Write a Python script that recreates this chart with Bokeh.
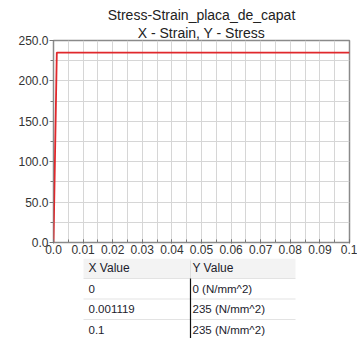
import numpy as np
from bokeh.plotting import figure
from bokeh.layouts import column
from bokeh.models import Range1d, FixedTicker, Title, ColumnDataSource
from bokeh.core.properties import value
from bokeh.embed import file_html
from bokeh.resources import INLINE

# ---- data ----
title_line1 = "Stress-Strain_placa_de_capat"
title_line2 = "X - Strain, Y - Stress"
strain = [0.0, 0.001119, 0.1]
stress = [0.0, 235.0, 235.0]
stress_unit = "(N/mm^2)"
x_ticks = [0.0, 0.01, 0.02, 0.03, 0.04, 0.05, 0.06, 0.07, 0.08, 0.09, 0.1]
x_tick_labels = ["0.0", "0.01", "0.02", "0.03", "0.04", "0.05", "0.06", "0.07", "0.08", "0.09", "0.1"]
y_ticks = [0, 50, 100, 150, 200, 250]
y_tick_labels = ["0.0", "50.0", "100.0", "150.0", "200.0", "250.0"]
table_headers = ["X Value", "Y Value"]

FONT = "Liberation Sans"
W = 357
CH = 258
TH = 338 - CH
BL, BR = 53, 8

p = figure(width=W, height=CH, output_backend="svg", toolbar_location=None,
           x_range=Range1d(0, 0.1), y_range=Range1d(0, 250),
           min_border_left=BL, min_border_right=BR, min_border_top=40, min_border_bottom=16,
           title=None)
p.background_fill_color = "white"
p.border_fill_color = "white"
p.outline_line_color = "#8a8a8a"
p.outline_line_width = 1.5

p.xgrid.ticker = FixedTicker(ticks=list(np.arange(0, 0.1001, 0.005)))
p.ygrid.ticker = FixedTicker(ticks=list(np.arange(0, 250.1, 25)))
for g in (p.xgrid, p.ygrid):
    g.grid_line_color = "#d6d6d6"
    g.grid_line_width = 1

p.xaxis.ticker = FixedTicker(ticks=x_ticks, minor_ticks=list(np.arange(0, 0.1001, 0.005)))
p.xaxis.major_label_overrides = {t: l for t, l in zip(x_ticks, x_tick_labels)}
p.yaxis.ticker = FixedTicker(ticks=y_ticks, minor_ticks=list(np.arange(0, 250.1, 25)))
p.yaxis.major_label_overrides = {t: l for t, l in zip(y_ticks, y_tick_labels)}
for ax in (p.xaxis, p.yaxis):
    ax.axis_line_color = None
    ax.major_tick_line_color = "#777777"
    ax.minor_tick_line_color = "#777777"
    ax.major_label_text_font = FONT
    ax.major_label_text_font_size = "12px"
    ax.major_label_text_color = "#333333"
p.xaxis.major_tick_in = 3
p.xaxis.major_tick_out = 1
p.xaxis.minor_tick_in = 3
p.xaxis.minor_tick_out = 0
p.xaxis.major_label_standoff = 1
p.yaxis.major_tick_in = 0
p.yaxis.major_tick_out = 4
p.yaxis.minor_tick_in = 0
p.yaxis.minor_tick_out = 3
p.yaxis.major_label_standoff = 1

p.line(strain, stress, line_color="#e0282c", line_width=1.8)

p.add_layout(Title(text=title_line2, align="center", text_font=FONT, text_font_size="14px",
                   text_font_style="normal", text_color="#222222", standoff=0, offset=0), "above")
p.add_layout(Title(text=title_line1, align="center", text_font=FONT, text_font_size="14px",
                   text_font_style="normal", text_color="#222222", standoff=0, offset=0), "above")

# ---- table (data units = page pixels) ----
t = figure(width=W, height=TH, output_backend="svg", toolbar_location=None,
           x_range=Range1d(BL, W - BR), y_range=Range1d(TH, 0),
           min_border_left=BL, min_border_right=BR, min_border_top=0, min_border_bottom=0,
           title=None)
t.axis.visible = False
t.grid.visible = False
t.outline_line_color = None
t.background_fill_color = "white"
t.border_fill_color = "white"

left, mid, right = 83, 190, 295
head_h = 19.5
row_h = 20.5
t.quad(left=[left], right=[right], top=[0], bottom=[head_h], fill_color="#f3f3f3", line_color=None)
t.segment(x0=[mid], y0=[2], x1=[mid], y1=[head_h], line_color="#dddddd", line_width=1)
t.text(x=[left + 5, mid + 2], y=[head_h / 2] * 2, text=table_headers,
       text_font=value(FONT), text_font_size="12px", text_color="#1c1c2c",
       text_align="left", text_baseline="middle")

n = len(strain)
line_y = [head_h + 0.5 + row_h * i for i in range(n)]
t.segment(x0=[left] * n, y0=line_y, x1=[right] * n, y1=line_y, line_color="#e3e3e3", line_width=1.2)
row_y = [head_h + 0.5 + row_h * i + row_h / 2 for i in range(n)]
xs_text = [f"{v:g}" for v in strain]
ys_text = [f"{v:g} {stress_unit}" for v in stress]
src = ColumnDataSource(dict(y=row_y, xt=xs_text, yt=ys_text))
t.text(x=left + 5, y="y", text="xt", source=src, text_font=value(FONT), text_font_size="11.5px",
       text_color="#1c1c2c", text_align="left", text_baseline="middle")
t.text(x=mid + 2, y="y", text="yt", source=src, text_font=value(FONT), text_font_size="11.5px",
       text_color="#1c1c2c", text_align="left", text_baseline="middle")
t.segment(x0=[mid], y0=[head_h + 0.5], x1=[mid], y1=[TH], line_color="#111111", line_width=1.2)

layout = column(p, t, spacing=0)
open("out.html", "w").write(file_html(layout, INLINE))
